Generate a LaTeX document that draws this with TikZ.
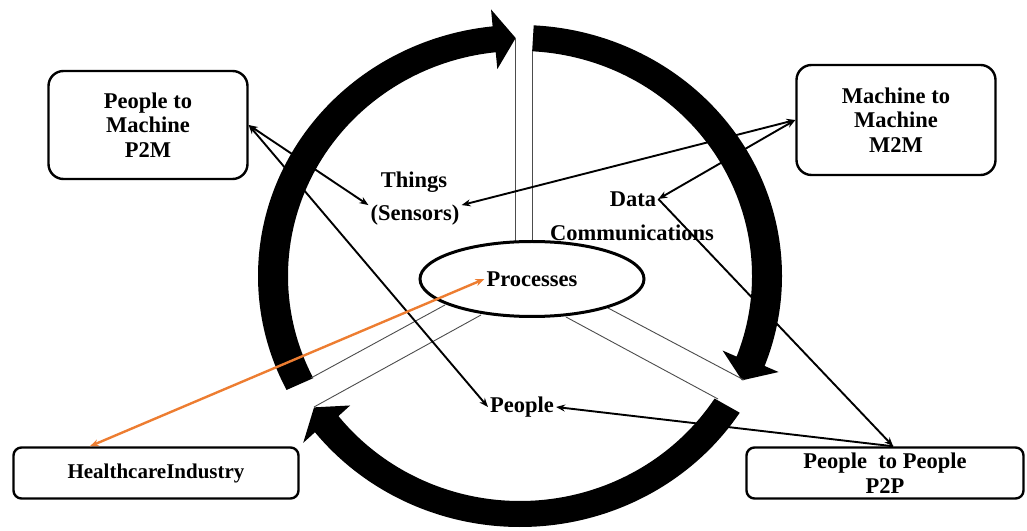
\documentclass[tikz,border=0pt]{standalone}
\usepackage{fontspec}
\setmainfont{Liberation Serif}
\usetikzlibrary{arrows.meta,shapes.geometric}
\begin{document}
\begin{tikzpicture}[x=1pt,y=1pt,
            >={Stealth[length=9pt,width=7pt]},
            every node/.style = {font=\bfseries\fontsize{22.5}{24.5}\selectfont, align=center},
            box/.style = {draw, line width=2.4pt, rounded corners=15pt},
            flat box/.style = {box, rounded corners=8pt, minimum height=51pt},
            tag/.style = {inner sep=2pt},
            core/.style = {draw, ellipse, line width=3pt, minimum width=224pt, minimum height=75pt},
            spoke/.style = {draw=black!70, line width=0.9pt},
            link/.style = {line width=1.9pt, <->},
            hot link/.style = {link, line width=2.4pt, draw={rgb,255:red,237;green,125;blue,49}}]
            \useasboundingbox (0,0) rectangle (1027,530);
            \begin{scope}[shift={(520,254)}]
                \foreach \startang/\baseang/\tipang in {207/96/91, 87/-21/-26, -33/-141.5/-146.5}
                    \fill (\startang:262pt and 251pt)
                        arc[start angle=\startang, end angle=\baseang, x radius=262pt, y radius=251pt]
                        -- (\baseang:277pt and 268pt) -- (\tipang:247pt and 238pt)
                        -- (\baseang:217pt and 208pt) -- (\baseang:232pt and 225pt)
                        arc[start angle=\baseang, end angle=\startang, x radius=232pt, y radius=225pt]
                        -- cycle;
            \end{scope}
            \draw[spoke] (515,288) -- (515,492);
            \draw[spoke] (532,288) -- (532,479);
            \draw[spoke] (608,222) -- (744,150);
            \draw[spoke] (566,213) -- (718,131);
            \draw[spoke] (445,225) -- (311,152);
            \draw[spoke] (481,215) -- (314,123);
            \node[core, fill=white] (core) at (532,251) {};
            \node[tag] (proc) at (532,251) {Processes};
            \node[tag] (things) at (414,348) {Things};
            \node[tag] (sensors) at (415,315) {(Sensors)};
            \node[tag] (data) at (633,331) {Data};
            \node[tag] (comm) at (632,297) {Communications};
            \node[tag] (people) at (522,123) {People};
            \node[box, minimum width=199pt, minimum height=108pt] (p2m) at (148,405) {People to\\Machine\\P2M};
            \node[box, minimum width=199pt, minimum height=110pt] (m2m) at (896,410) {Machine to\\Machine\\M2M};
            \node[flat box, minimum width=285pt, font=\bfseries\fontsize{21}{24}\selectfont] (hci) at (156,57) {HealthcareIndustry};
            \node[flat box, minimum width=277pt, inner sep=0pt] (p2p) at (885,57) {People \ to People\\P2P};
            \draw[link] (p2m.east) -- (sensors.168);
            \draw[link] (p2m.east) -- (people.west);
            \draw[link] (sensors.12) -- (m2m.west);
            \draw[link] (data.east) -- (m2m.west);
            \draw[link, ->] (data.east) -- (p2p.73);
            \draw[link, ->] (p2p.73) -- (people.east);
            \draw[hot link] (proc.west) -- (hci.158);
\end{tikzpicture}
\end{document}
